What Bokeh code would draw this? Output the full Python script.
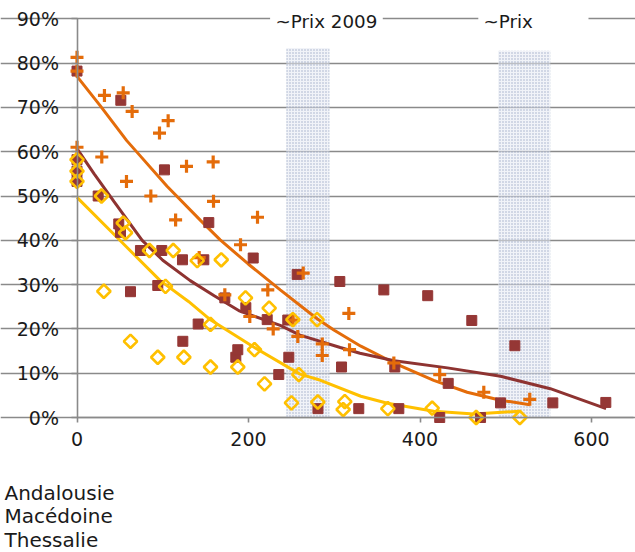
from bokeh.plotting import figure
from bokeh.models import Range1d, FixedTicker, NumeralTickFormatter
from bokeh.core.properties import value
from bokeh.embed import file_html
from bokeh.resources import INLINE
import numpy as np

# ---- data (x = price-like quantity, y = share) ----
and_x = [0, 0, 0, 28.9, 32, 53.9, 57.7, 64.3, 86.1, 96.2, 106.3, 115, 127.7, 142.5, 158.8, 159.2,
         172.4, 190.7, 201.5, 210.5, 222.5, 228.8, 252, 257.5, 263.8, 286, 286, 317, 317.8, 369.5,
         423, 474.4, 528]
and_y = [0.813, 0.782, 0.610, 0.588, 0.727, 0.733, 0.533, 0.691, 0.500, 0.642, 0.670, 0.446, 0.567,
         0.361, 0.577, 0.488, 0.277, 0.390, 0.228, 0.452, 0.288, 0.200, 0.220, 0.183, 0.326, 0.166,
         0.140, 0.235, 0.153, 0.123, 0.097, 0.057, 0.041]

mac_x = [0, 0, 0, 0, 24.7, 48.7, 50.7, 51.1, 62.4, 74, 94.2, 98.9, 102, 123, 123.4, 141.3, 147.9,
         153.7, 172.4, 185.2, 187.5, 196.9, 205.5, 221.8, 235.3, 245.8, 247, 256.8, 281, 306.5,
         308.5, 328.6, 357.8, 370.6, 375.3, 409, 423, 432.9, 460.4, 470.6, 493.9, 510.6, 554.9, 616.7]
mac_y = [0.782, 0.582, 0.556, 0.533, 0.500, 0.437, 0.418, 0.716, 0.284, 0.377, 0.298, 0.377, 0.559,
         0.356, 0.172, 0.211, 0.356, 0.440, 0.270, 0.136, 0.153, 0.248, 0.360, 0.221, 0.097, 0.220,
         0.136, 0.323, 0.020, 0.307, 0.114, 0.020, 0.288, 0.114, 0.020, 0.275, 0.000, 0.077, 0.219,
         0.000, 0.033, 0.162, 0.033, 0.034]

the_x = [0, 0, 0, 28.6, 31.3, 53.9, 56.6, 62.4, 84.5, 94.2, 103.2, 112.2, 124.6, 140.2, 155.7, 155.7,
         168.2, 187.5, 196.5, 207, 218.7, 224.1, 251.7, 250.1, 258.7, 280, 280.8, 312.3, 310.4,
         362.5, 414.2, 465.5, 516.4]
the_y = [0.582, 0.556, 0.533, 0.500, 0.285, 0.439, 0.417, 0.172, 0.377, 0.136, 0.296, 0.377, 0.136,
         0.354, 0.210, 0.114, 0.356, 0.114, 0.270, 0.153, 0.076, 0.247, 0.221, 0.033, 0.097, 0.221,
         0.035, 0.036, 0.018, 0.020, 0.021, 0.000, 0.000]

# trend lines
and_tx = [0, 27, 58, 74, 105, 144, 167, 200, 237, 280, 300, 331, 370, 416, 455, 494, 528]
and_ty = [0.770, 0.704, 0.625, 0.590, 0.522, 0.445, 0.401, 0.346, 0.288, 0.223, 0.197, 0.161,
          0.123, 0.084, 0.057, 0.039, 0.029]
mac_tx = [0, 20, 43, 76, 100, 132, 160, 190, 237, 260, 307, 330, 370, 432, 494, 552, 617]
mac_ty = [0.607, 0.550, 0.488, 0.400, 0.355, 0.309, 0.275, 0.240, 0.208, 0.186, 0.158, 0.145,
          0.128, 0.112, 0.093, 0.065, 0.020]
the_tx = [0, 50, 97, 130, 156, 206, 260, 284, 331, 362, 416, 463, 516]
the_ty = [0.497, 0.400, 0.309, 0.262, 0.220, 0.159, 0.098, 0.084, 0.048, 0.032, 0.014, 0.008, 0.014]

band_x0 = [244, 491]
band_x1 = [294.5, 552]
band_top = [0.834, 0.828]

y_ticks = [0.0, 0.1, 0.2, 0.3, 0.4, 0.5, 0.6, 0.7, 0.8, 0.9]
x_ticks = [0, 200, 400, 600]
series_names = ["Andalousie", "Macédoine", "Thessalie"]
top_labels = ["~Prix 2009", "~Prix"]

ORANGE = "#e46c0a"
DARKRED = "#953735"
TREND_RED = "#8e3331"
YELLOW = "#ffc000"
GRID = "#8a8a8a"
TXT = "#1a1a1a"
FONT = "DejaVu Sans"

# pixel geometry: x=0 at 76.5px, 0.8575 px per unit; y=0 at 417px, 443 px per 100%
W, H = 635, 552
X0PX, XS = 76.5, 0.8575
Y0PX, YS = 417.0, 443.0
X_MAX = 649  # end of the horizontal axis

p = figure(width=W, height=H,
           x_range=Range1d(-X0PX / XS, (W - X0PX) / XS),
           y_range=Range1d(-(H - Y0PX) / YS, Y0PX / YS),
           output_backend="svg", toolbar_location=None,
           min_border_left=0, min_border_right=0, min_border_top=0, min_border_bottom=0)
p.outline_line_color = None
p.xgrid.visible = False
p.ygrid.ticker = FixedTicker(ticks=y_ticks)
p.ygrid.bounds = (0, X_MAX)
p.ygrid.grid_line_color = GRID
p.ygrid.grid_line_width = 1.6

p.yaxis.ticker = FixedTicker(ticks=y_ticks)
p.yaxis.formatter = NumeralTickFormatter(format="0%")
p.yaxis.bounds = (0, 0.9)
p.yaxis.fixed_location = 0
p.xaxis.ticker = FixedTicker(ticks=x_ticks)
p.xaxis.bounds = (0, X_MAX)
p.xaxis.fixed_location = 0
for ax in (p.xaxis, p.yaxis):
    ax.axis_line_color = GRID
    ax.axis_line_width = 1.6
    ax.major_tick_line_color = GRID
    ax.major_tick_line_width = 1.6
    ax.minor_tick_line_color = None
    ax.major_tick_in = 0
    ax.major_label_text_font = FONT
    ax.major_label_text_font_size = "19px"
    ax.major_label_text_color = TXT
p.yaxis.major_tick_out = 6
p.yaxis.major_label_standoff = 12
p.xaxis.major_tick_out = 5
p.xaxis.major_label_standoff = 9

# shaded price bands
p.quad(left=band_x0, right=band_x1, bottom=[0, 0], top=band_top,
       fill_color="#e6eaf2", fill_alpha=0.55, line_color=None,
       hatch_pattern=".", hatch_color="#7d92b6", hatch_scale=3, hatch_weight=1, hatch_alpha=0.7)

# white boxes behind the top labels, then the labels
p.quad(left=[225.2, 468], right=[356.6, 596.5], bottom=[0.893, 0.893], top=[0.907, 0.907],
       fill_color="white", line_color=None)
p.text(x=[231.5, 474], y=[(Y0PX - 20.5) / YS] * 2, text=top_labels, text_font=value(FONT),
       text_font_size="18.3px", text_baseline="alphabetic", text_align="left", text_color=TXT)

# trend lines
p.line(and_tx, and_ty, line_color=ORANGE, line_width=3)
p.line(mac_tx, mac_ty, line_color=TREND_RED, line_width=3)
p.line(the_tx, the_ty, line_color=YELLOW, line_width=3)

# markers
p.scatter(mac_x, mac_y, marker="square", size=10, fill_color=DARKRED, line_color=DARKRED)
p.scatter(and_x, and_y, marker="cross", size=13, line_color=ORANGE, line_width=3.2)
p.scatter(the_x, the_y, marker="square", angle=np.pi / 4, size=9.5, fill_color=None,
          line_color=YELLOW, line_width=2.6)

# legend (text only, as in the reference), below the axis
leg_x = (4 - X0PX) / XS
leg_y = [(Y0PX - b) / YS for b in (492, 515.5, 539)]
p.text(x=[leg_x] * 3, y=leg_y, text=series_names, text_font=value(FONT),
       text_font_size="20px", text_baseline="alphabetic", text_align="left", text_color=TXT)

open("out.html", "w").write(file_html(p, INLINE))
